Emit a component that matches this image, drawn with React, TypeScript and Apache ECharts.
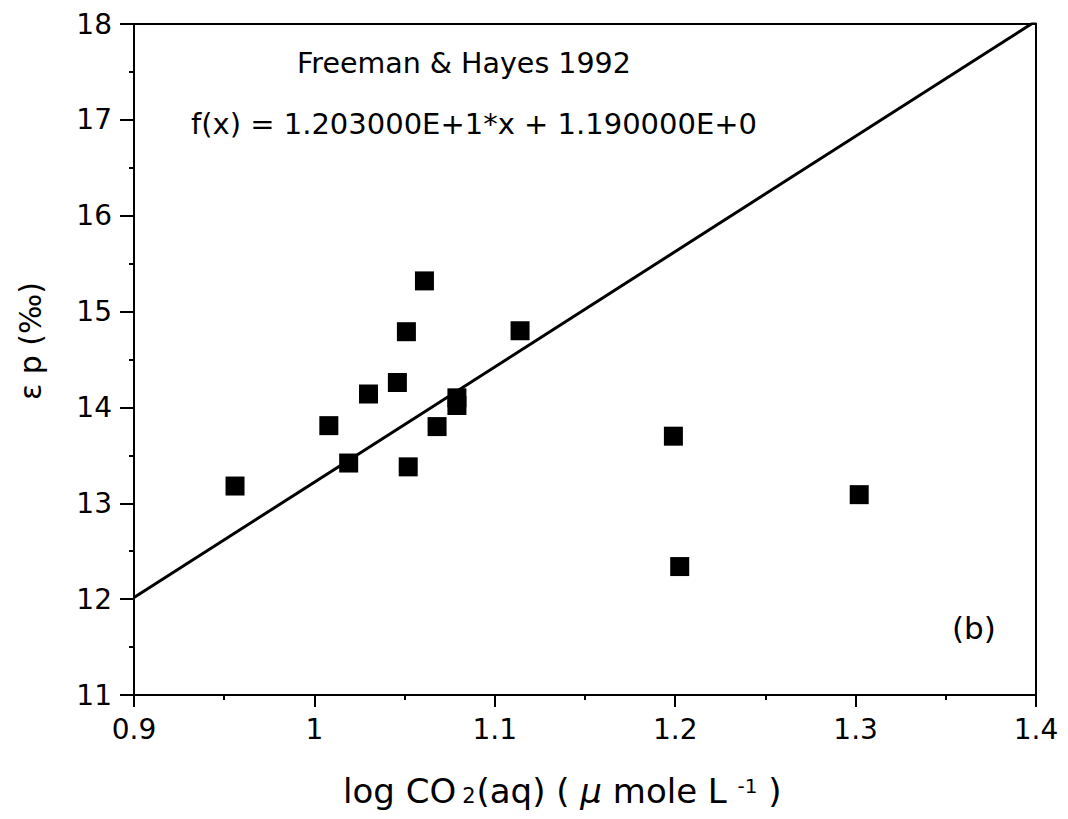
import React, { useEffect, useRef } from "react";
import * as echarts from "echarts";

const logCO2 = [0.956, 1.008, 1.019, 1.030, 1.046, 1.051, 1.061, 1.052, 1.068, 1.079, 1.079, 1.114, 1.199, 1.302, 1.2025];
const epsilonP = [13.18, 13.81, 13.42, 14.14, 14.26, 14.79, 15.32, 13.38, 13.80, 14.02, 14.10, 14.80, 13.70, 13.09, 12.34];
const fitSlope = 12.03;
const fitIntercept = 1.19;
const fitX = [0.9, 1.4];
const xTicks = [0.9, 1.0, 1.1, 1.2, 1.3, 1.4];
const yTicks = [11, 12, 13, 14, 15, 16, 17, 18];

const FONT = "DejaVu Sans";

export default function App() {
  const ref = useRef<HTMLDivElement>(null);
  useEffect(() => {
    if (!ref.current) return;
    const chart = echarts.init(ref.current, null, { renderer: "svg" });
    const points = logCO2.map((x, i) => [x, epsilonP[i]]);
    const fitLine = fitX.map((x) => [x, fitSlope * x + fitIntercept]);
    chart.setOption({
      animation: false,
      backgroundColor: "#ffffff",
      grid: {
        left: 134,
        top: 24,
        right: 32,
        bottom: 124,
        show: true,
        borderColor: "#000",
        borderWidth: 2,
        backgroundColor: "transparent",
      },
      xAxis: {
        type: "value",
        min: xTicks[0],
        max: xTicks[xTicks.length - 1],
        interval: 0.1,
        axisLine: { show: true, onZero: false, lineStyle: { color: "#000", width: 2 } },
        axisTick: { show: true, inside: false, length: 12, lineStyle: { color: "#000", width: 2 } },
        minorTick: { show: true, splitNumber: 2, length: 5, lineStyle: { color: "#000", width: 2 } },
        splitLine: { show: false },
        axisLabel: {
          color: "#000",
          fontFamily: FONT,
          fontSize: 28,
          margin: 20,
          formatter: (v: number) => String(Math.round(v * 10) / 10),
        },
      },
      yAxis: {
        type: "value",
        min: yTicks[0],
        max: yTicks[yTicks.length - 1],
        interval: 1,
        axisLine: { show: true, onZero: false, lineStyle: { color: "#000", width: 2 } },
        axisTick: { show: true, inside: false, length: 14, lineStyle: { color: "#000", width: 2 } },
        minorTick: { show: true, splitNumber: 2, length: 5, lineStyle: { color: "#000", width: 2 } },
        splitLine: { show: false },
        axisLabel: { color: "#000", fontFamily: FONT, fontSize: 28, margin: 22 },
      },
      series: [
        {
          type: "line",
          data: fitLine,
          showSymbol: false,
          symbol: "none",
          clip: true,
          lineStyle: { color: "#000", width: 3 },
          z: 2,
        },
        {
          type: "scatter",
          data: points,
          symbol: "rect",
          symbolSize: 19,
          itemStyle: { color: "#000", opacity: 1 },
          z: 3,
        },
      ],
      graphic: [
        {
          type: "text",
          left: 297,
          top: 49,
          style: { text: "Freeman & Hayes 1992", fontFamily: FONT, fontSize: 28.5, fill: "#000" },
        },
        {
          type: "text",
          left: 191,
          top: 109,
          style: { text: "f(x) = 1.203000E+1*x + 1.190000E+0", fontFamily: FONT, fontSize: 29, fill: "#000" },
        },
        {
          type: "text",
          left: 952,
          top: 612,
          style: { text: "(b)", fontFamily: FONT, fontSize: 31, fill: "#000" },
        },
        {
          type: "text",
          x: 30,
          y: 341,
          rotation: Math.PI / 2,
          style: {
            text: "ε p (‰)",
            fontFamily: FONT,
            fontSize: 30,
            fill: "#000",
            align: "center",
            verticalAlign: "middle",
          },
        },
        {
          type: "text",
          left: 343,
          top: 774,
          style: {
            text: "{n|log CO}{sub|2}{n|(aq) ( }{mu|μ}{n| mole L }{sup|-1}{n| )}",
            fill: "#000",
            rich: {
              n: { fontFamily: FONT, fontSize: 34, fill: "#000", color: "#000" },
              mu: { fontFamily: FONT, fontSize: 34, fill: "#000", color: "#000", fontStyle: "italic" },
              sub: { fontFamily: FONT, fontSize: 21, fill: "#000", color: "#000", verticalAlign: "bottom", padding: [0, 1, 2, 6] },
              sup: { fontFamily: FONT, fontSize: 20, fill: "#000", color: "#000", verticalAlign: "top", padding: [2, 0, 0, 0] },
            },
          },
        },
      ],
    });
    return () => chart.dispose();
  }, []);
  return (
    <div
      ref={ref}
      style={{ position: "fixed", left: 0, top: 0, width: 1068, height: 819, background: "#fff" }}
    />
  );
}
